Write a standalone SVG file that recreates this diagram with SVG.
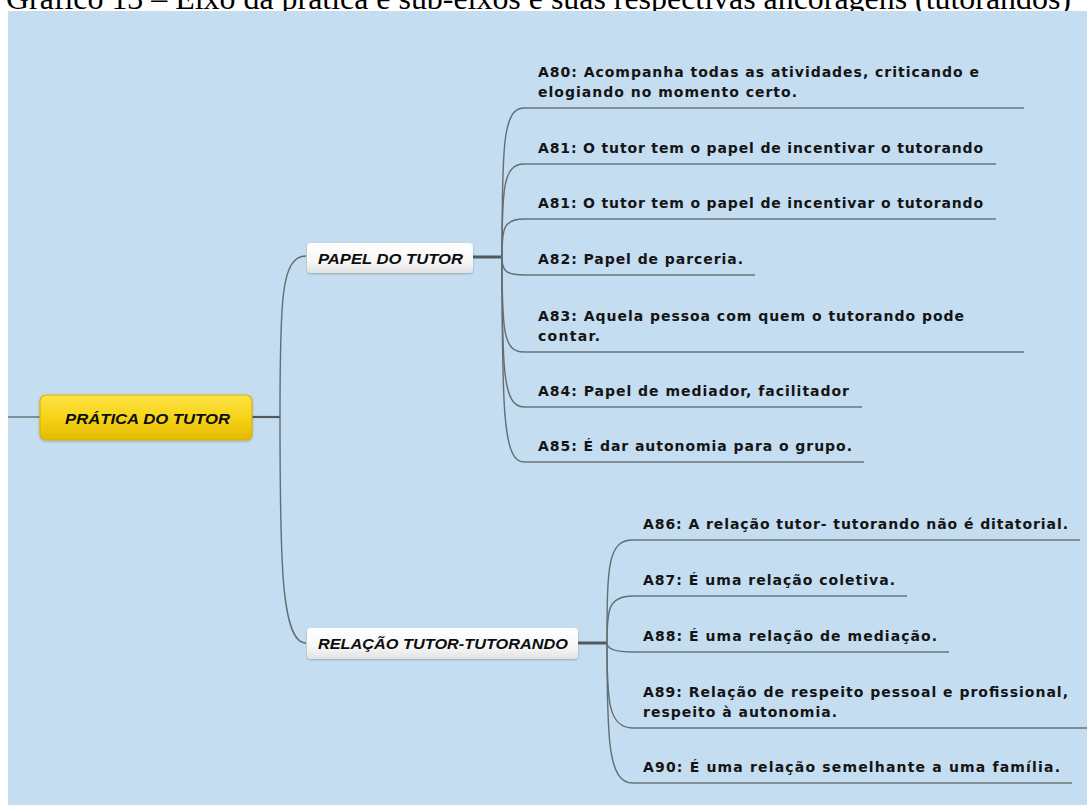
<svg xmlns="http://www.w3.org/2000/svg" width="1087" height="805" viewBox="0 0 1087 805">
<defs>
<linearGradient id="gY" x1="0" y1="0" x2="0" y2="1">
<stop offset="0" stop-color="#fde247"/>
<stop offset="0.5" stop-color="#f6d417"/>
<stop offset="1" stop-color="#e4b900"/>
</linearGradient>
<linearGradient id="gW" x1="0" y1="0" x2="0" y2="1">
<stop offset="0" stop-color="#ffffff"/>
<stop offset="0.6" stop-color="#f7f7f7"/>
<stop offset="1" stop-color="#e2e2e2"/>
</linearGradient>
<filter id="sh" x="-10%" y="-20%" width="120%" height="150%">
<feGaussianBlur in="SourceAlpha" stdDeviation="1.2"/>
<feOffset dx="0" dy="1" result="b"/>
<feComponentTransfer><feFuncA type="linear" slope="0.25"/></feComponentTransfer>
<feMerge><feMergeNode/><feMergeNode in="SourceGraphic"/></feMerge>
</filter>
</defs>
<style>
.title{font-family:"Liberation Serif","Times New Roman",serif;font-size:32px;fill:#000}
.lbl{font-family:"Liberation Sans",Arial,sans-serif;font-size:15px;font-weight:bold;font-style:italic;fill:#0d0d0d}
.t{font-family:"DejaVu Sans","Noto Sans",sans-serif;font-size:14px;font-weight:bold;fill:#141414}
.c{fill:none;stroke:#636d72;stroke-width:1.4}
.u{fill:none;stroke:#6a7479;stroke-width:1.6}
.stub{fill:none;stroke:#50595c;stroke-width:3}
</style>
<text class="title" x="6" y="9" textLength="1065" lengthAdjust="spacingAndGlyphs">Gráfico 13 – Eixo da prática e sub-eixos e suas respectivas ancoragens (tutorandos)</text>
<rect x="8" y="11" width="1079" height="794" fill="#c4ddf0"/>

<g id="connectors">
<path class="c" d="M8,417 H40"/>
<path class="stub" style="stroke-width:2.2" d="M252,417 H280"/>
<path class="c" d="M280,417 C280,300 281,256 306,256"/>
<path class="c" d="M280,417 C280,560 281,643 306,643"/>
<path class="stub" d="M473,257 H502"/>
<path class="c" d="M502,257 C502,145 503,108 524,108"/>
<path class="c" d="M502,257 C502,190 503,164 524,164"/>
<path class="c" d="M502,257 C502,229 503,219 524,219"/>
<path class="c" d="M502,257 C502,270 505,275 524,275"/>
<path class="c" d="M502,257 C502,330 503,352 524,352"/>
<path class="c" d="M502,257 C502,370 503,407 524,407"/>
<path class="c" d="M502,257 C502,410 503,462 524,462"/>
<path class="u" d="M524,108 H1024"/>
<path class="u" d="M524,164 H996"/>
<path class="u" d="M524,219 H996"/>
<path class="u" d="M524,275 H755"/>
<path class="u" d="M524,352 H1024"/>
<path class="u" d="M524,407 H862"/>
<path class="u" d="M524,462 H864"/>
<path class="stub" d="M578,643 H607"/>
<path class="c" d="M607,643 C607,565 608,540 633,540"/>
<path class="c" d="M607,643 C607,610 608,596 633,596"/>
<path class="c" d="M607,643 C607,648 612,652 633,652"/>
<path class="c" d="M607,643 C607,700 608,728 633,728"/>
<path class="c" d="M607,643 C607,740 608,783 633,783"/>
<path class="u" d="M633,540 H1080"/>
<path class="u" d="M633,596 H907"/>
<path class="u" d="M633,652 H949"/>
<path class="u" d="M633,728 H1087"/>
<path class="u" d="M633,783 H1072"/>
</g>

<g id="root">
<rect x="40" y="395" width="212" height="45" rx="6" fill="url(#gY)" stroke="#dcb400" stroke-width="1.2" filter="url(#sh)"/>
<text class="lbl" x="65" y="424" textLength="165" lengthAdjust="spacingAndGlyphs">PRÁTICA DO TUTOR</text>
</g>

<g id="papel">
<rect x="307" y="243" width="166" height="30" rx="4" fill="url(#gW)" filter="url(#sh)"/>
<text class="lbl" x="318" y="264" textLength="145" lengthAdjust="spacingAndGlyphs">PAPEL DO TUTOR</text>
</g>

<g id="relacao">
<rect x="307" y="628" width="271" height="31" rx="4" fill="url(#gW)" filter="url(#sh)"/>
<text class="lbl" x="318" y="649" textLength="250" lengthAdjust="spacingAndGlyphs">RELAÇÃO TUTOR-TUTORANDO</text>
</g>

<g id="a80"><text class="t" x="538" y="77" textLength="441" lengthAdjust="spacing">A80: Acompanha todas as atividades, criticando e</text><text class="t" x="538" y="97" textLength="259" lengthAdjust="spacing">elogiando no momento certo.</text></g>
<g id="a81"><text class="t" x="538" y="153" textLength="445" lengthAdjust="spacing">A81: O tutor tem o papel de incentivar o tutorando</text></g>
<g id="a81b"><text class="t" x="538" y="208" textLength="445" lengthAdjust="spacing">A81: O tutor tem o papel de incentivar o tutorando</text></g>
<g id="a82"><text class="t" x="538" y="264" textLength="205" lengthAdjust="spacing">A82: Papel de parceria.</text></g>
<g id="a83"><text class="t" x="538" y="321" textLength="426" lengthAdjust="spacing">A83: Aquela pessoa com quem o tutorando pode</text><text class="t" x="538" y="341" textLength="62" lengthAdjust="spacing">contar.</text></g>
<g id="a84"><text class="t" x="538" y="396" textLength="311" lengthAdjust="spacing">A84: Papel de mediador, facilitador</text></g>
<g id="a85"><text class="t" x="538" y="451" textLength="314" lengthAdjust="spacing">A85: É dar autonomia para o grupo.</text></g>

<g id="a86"><text class="t" x="643" y="529" textLength="425" lengthAdjust="spacing">A86: A relação tutor- tutorando não é ditatorial.</text></g>
<g id="a87"><text class="t" x="643" y="585" textLength="252" lengthAdjust="spacing">A87: É uma relação coletiva.</text></g>
<g id="a88"><text class="t" x="643" y="641" textLength="294" lengthAdjust="spacing">A88: É uma relação de mediação.</text></g>
<g id="a89"><text class="t" x="643" y="697" textLength="425" lengthAdjust="spacing">A89: Relação de respeito pessoal e profissional,</text><text class="t" x="643" y="717" textLength="194" lengthAdjust="spacing">respeito à autonomia.</text></g>
<g id="a90"><text class="t" x="643" y="772" textLength="417" lengthAdjust="spacing">A90: É uma relação semelhante a  uma família.</text></g>
</svg>
